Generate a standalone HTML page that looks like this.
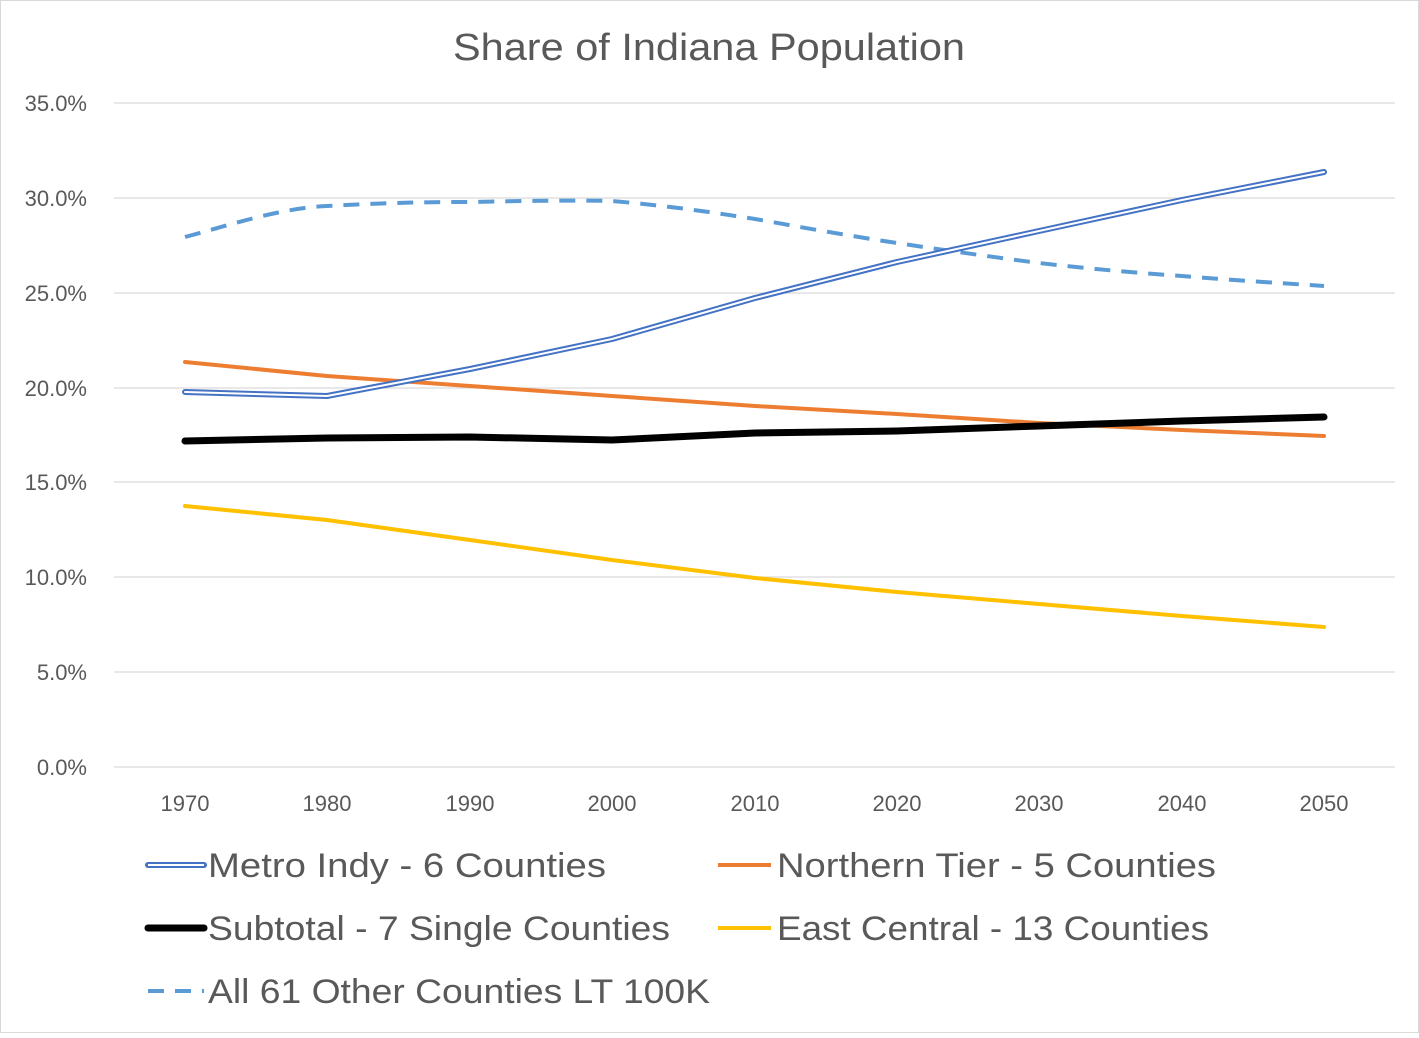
<!DOCTYPE html>
<html><head><style>
html,body{margin:0;padding:0;background:#fff}
svg text{font-family:"Liberation Sans",Calibri,sans-serif;fill:#595959}
</style></head><body>
<svg width="1419" height="1033" xmlns="http://www.w3.org/2000/svg">
<rect x="0.5" y="0.5" width="1418" height="1032" fill="#fff" stroke="#d9d9d9"/>
<text x="453" y="60" font-size="38" textLength="512" lengthAdjust="spacingAndGlyphs">Share of Indiana Population</text>
<g stroke="#d9d9d9" stroke-width="1.3">
<line x1="114" x2="1395" y1="103" y2="103"/><line x1="114" x2="1395" y1="198" y2="198"/>
<line x1="114" x2="1395" y1="293" y2="293"/><line x1="114" x2="1395" y1="388" y2="388"/>
<line x1="114" x2="1395" y1="482" y2="482"/><line x1="114" x2="1395" y1="577" y2="577"/>
<line x1="114" x2="1395" y1="672" y2="672"/><line x1="114" x2="1395" y1="767" y2="767"/>
</g>
<g font-size="22" text-anchor="end">
<text x="87" y="111">35.0%</text><text x="87" y="206">30.0%</text><text x="87" y="301">25.0%</text>
<text x="87" y="396">20.0%</text><text x="87" y="490">15.0%</text><text x="87" y="585">10.0%</text>
<text x="87" y="680">5.0%</text><text x="87" y="775">0.0%</text>
</g>
<g font-size="22" text-anchor="middle">
<text x="185" y="811">1970</text><text x="327" y="811">1980</text><text x="470" y="811">1990</text>
<text x="612" y="811">2000</text><text x="755" y="811">2010</text><text x="897" y="811">2020</text>
<text x="1039" y="811">2030</text><text x="1182" y="811">2040</text><text x="1324" y="811">2050</text>
</g>
<g fill="none" stroke-linecap="round" stroke-linejoin="round">
<path d="M185,237 C230,225 280,208 327,206 C380,203 420,202 470,202 C520,201 570,200 612,201 C670,206 710,212 755,219 C800,227 850,236 897,243 C950,251 1000,258 1039,263 C1090,269 1140,273 1182,276 C1230,280 1280,283 1324,286" stroke="#5b9bd5" stroke-width="4" stroke-dasharray="16,11" stroke-linecap="butt"/>
<polyline points="185,506 327,520 470,540 612,560 755,578 897,592 1039,604 1182,616 1324,627" stroke="#ffc000" stroke-width="4"/>
<polyline points="185,362 327,376 470,386 612,396 755,406 897,414 1039,423 1182,430 1324,436" stroke="#ed7d31" stroke-width="4"/>
<polyline points="185,441 327,438 470,437 612,440 755,433 897,431 1039,426 1182,421 1324,417" stroke="#000" stroke-width="7"/>
<polyline points="185,392 327,396 470,369 612,339 755,298 897,262 1039,231 1182,200 1324,172" stroke="#4472c4" stroke-width="6"/>
<polyline points="185,392 327,396 470,369 612,339 755,298 897,262 1039,231 1182,200 1324,172" stroke="#fff" stroke-width="2"/>
</g>
<g font-size="34">
<line x1="148" x2="204" y1="865" y2="865" stroke="#4472c4" stroke-width="6" stroke-linecap="round"/>
<line x1="148" x2="204" y1="865" y2="865" stroke="#fff" stroke-width="2"/>
<text x="208" y="877" textLength="398" lengthAdjust="spacingAndGlyphs">Metro Indy - 6 Counties</text>
<line x1="718" x2="771" y1="865" y2="865" stroke="#ed7d31" stroke-width="4"/>
<text x="777" y="877" textLength="439" lengthAdjust="spacingAndGlyphs">Northern Tier - 5 Counties</text>
<line x1="148" x2="204" y1="928" y2="928" stroke="#000" stroke-width="7" stroke-linecap="round"/>
<text x="208" y="940" textLength="462" lengthAdjust="spacingAndGlyphs">Subtotal - 7 Single Counties</text>
<line x1="718" x2="771" y1="928" y2="928" stroke="#ffc000" stroke-width="4"/>
<text x="777" y="940" textLength="432" lengthAdjust="spacingAndGlyphs">East Central - 13 Counties</text>
<line x1="148" x2="204" y1="991" y2="991" stroke="#5b9bd5" stroke-width="4" stroke-dasharray="16,11"/>
<text x="208" y="1003" textLength="502" lengthAdjust="spacingAndGlyphs">All 61 Other Counties LT 100K</text>
</g>
</svg>
</body></html>
